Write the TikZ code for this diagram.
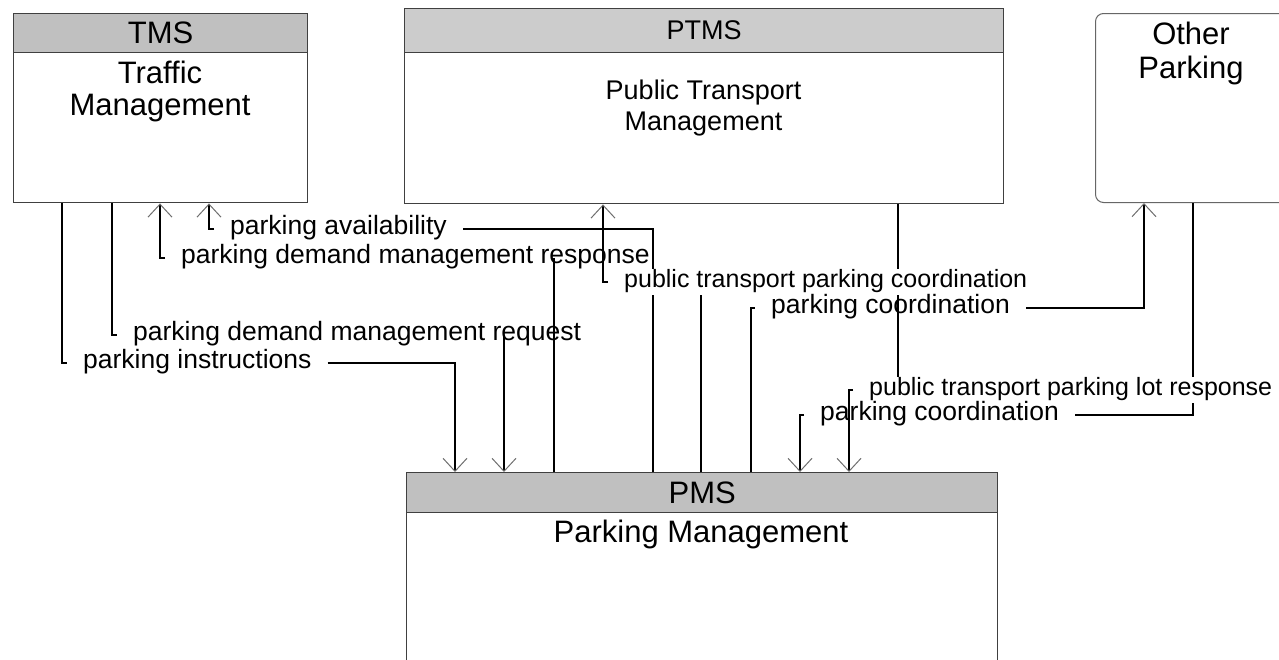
\documentclass[tikz,border=0pt]{standalone}
\usepackage{fontspec}
\setmainfont{Liberation Sans}
\usetikzlibrary{arrows.meta}
\definecolor{hdrgray}{RGB}{192,192,192}
\definecolor{hdrlight}{RGB}{204,204,204}
\definecolor{edgegray}{RGB}{64,64,64}
\definecolor{tipgray}{RGB}{110,110,110}
\begin{document}
\begin{tikzpicture}[x=1pt,y=-1pt,
  box/.style={draw=edgegray,line width=1.4pt,fill=white,rectangle,anchor=north west,inner sep=0pt},
  hdr/.style={box,fill=hdrgray,font=\fontsize{31}{32}\selectfont},
  hdrsmall/.style={box,fill=hdrlight,font=\fontsize{27}{30}\selectfont},
  bigtxt/.style={font=\fontsize{31}{32}\selectfont,anchor=base,inner sep=0pt},
  midtxt/.style={font=\fontsize{27}{30}\selectfont,anchor=base,inner sep=0pt},
  flow/.style={line width=2.8pt,black},
  tip/.style={-{Straight Barb[length=13pt,width=24pt,line width'=1pt,color=tipgray]}},
  lbl/.style={font=\fontsize{26.5}{30}\selectfont,anchor=west,inner xsep=16pt,inner ysep=0pt,text height=18pt,text depth=8pt},
  lblsmall/.style={lbl,font=\fontsize{25}{30}\selectfont}
]
\useasboundingbox (0,0) rectangle (1279,659);

% boxes
\node[box,minimum width=294pt,minimum height=189pt] (tms) at (13,13) {};
\node[hdr,minimum width=294pt,minimum height=39pt] (tmsh) at (13,13) {TMS};
\node[bigtxt] (tmst1) at (160,83) {Traffic};
\node[bigtxt] (tmst2) at (160,115) {Management};

\node[box,minimum width=599pt,minimum height=195pt] (ptms) at (404,8) {};
\node[hdrsmall,minimum width=599pt,minimum height=44pt] (ptmsh) at (404,8) {PTMS};
\node[midtxt] (ptmst1) at (703.5,99) {Public Transport};
\node[midtxt] (ptmst2) at (703.5,130) {Management};

\node[box,draw=edgegray!80,line width=1pt,rounded corners=8pt,minimum width=192pt,minimum height=189pt] (oth) at (1095,13) {};
\node[bigtxt] (otht1) at (1191,44) {Other};
\node[bigtxt] (otht2) at (1191,78) {Parking};

\node[box,minimum width=591pt,minimum height=240pt] (pms) at (406,472) {};
\node[hdr,minimum width=591pt,minimum height=40pt] (pmsh) at (406,472) {PMS};
\node[bigtxt] (pmst1) at (701,542) {Parking Management};

% labels
\node[lbl] (l1) at (67,363) {parking instructions};
\node[lbl] (l2) at (117,335) {parking demand management request};
\node[lbl] (l3) at (165,258) {parking demand management response};
\node[lbl] (l4) at (214,229) {parking availability};
\node[lblsmall] (l5) at (608,282) {public transport parking coordination};
\node[lbl] (l6) at (755,308) {parking coordination};
\node[lbl] (l7) at (804,415) {parking coordination};
\node[lblsmall] (l8) at (853,390) {public transport parking lot response};

% C1 parking instructions: TMS -> PMS
\draw[flow] (62,0 |- tms.south) |- (l1.west);
\draw[flow,tip] (l1.east) -| (455,0 |- pms.north);
% C2 parking demand management request: TMS -> PMS
\draw[flow] (112,0 |- tms.south) |- (l2.west);
\draw[flow,tip] (504,0 |- l2.west) -- (504,0 |- pms.north);
% C3 parking demand management response: PMS -> TMS
\draw[flow] (554,0 |- pms.north) -- (554,0 |- l3.west);
\draw[flow,tip] (l3.west) -| (160,0 |- tms.south);
% C4 parking availability: PMS -> TMS
\draw[flow] (653,0 |- pms.north) -- (653,0 |- l5.south);
\draw[flow] (653,0 |- l5.north) |- (l4.east);
\draw[flow,tip] (l4.west) -| (209,0 |- tms.south);
% C5 public transport parking coordination: PMS -> PTMS
\draw[flow] (701,0 |- pms.north) -- (701,0 |- l5.south);
\draw[flow,tip] (l5.west) -| (603,0 |- ptms.south);
% C6 parking coordination: PMS -> Other Parking
\draw[flow] (751,0 |- pms.north) |- (l6.west);
\draw[flow,tip] (l6.east) -| (1144,0 |- oth.south);
% C7 parking coordination: Other Parking -> PMS
\draw[flow] (1193,0 |- oth.south) -- (1193,0 |- l8.north);
\draw[flow] (1193,0 |- l8.south) |- (l7.east);
\draw[flow,tip] (l7.west) -| (800,0 |- pms.north);
% C8 public transport parking lot response: PTMS -> PMS
\draw[flow] (898,0 |- ptms.south) -- (898,0 |- l5.north);
\draw[flow] (898,0 |- l5.south) -- (898,0 |- l8.north);
\draw[flow,tip] (l8.west) -| (849,0 |- pms.north);
\end{tikzpicture}
\end{document}
